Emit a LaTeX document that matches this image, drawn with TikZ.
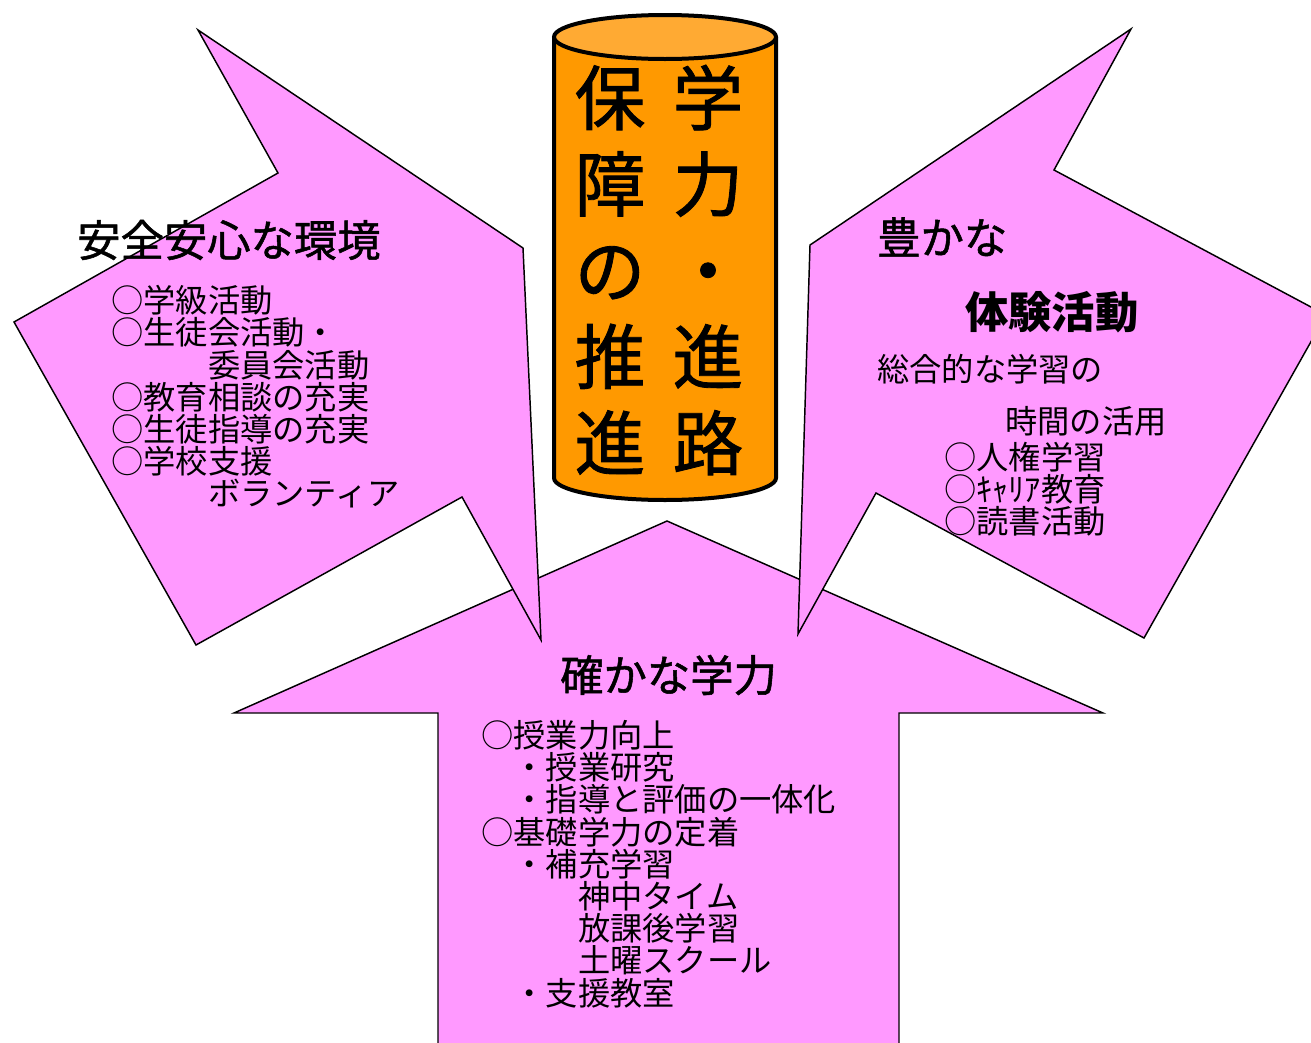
\documentclass[tikz,border=0pt]{standalone}
\usepackage{fontspec}
\newfontfamily\jp{Noto Sans CJK JP}
\newfontfamily\jpmed[FakeBold=1.2]{Noto Sans CJK JP}
\setlength{\lineskiplimit}{-100pt}
\definecolor{pinkfill}{HTML}{FF99FF}
\definecolor{orangebody}{HTML}{FF9900}
\definecolor{orangetop}{HTML}{FFAA33}
\begin{document}
\begin{tikzpicture}[x=0.75pt,y=-0.75pt,
  arrowshape/.style={fill=pinkfill, draw=black, line width=1.1pt, line join=miter},
  titletext/.style={font=\jpmed\fontsize{32.5}{34}\selectfont, inner sep=0pt, anchor=west},
  listtext/.style={font=\jp\fontsize{24.2}{24.15}\selectfont, inner sep=0pt, anchor=west, align=left},
  coltext/.style={font=\jpmed\fontsize{53}{64.7}\selectfont, inner sep=0pt, align=center}]
\useasboundingbox (0,0) rectangle (1311,1043);
\begin{scope}
  \clip (0,0) rectangle (1311,1043);
  % bottom arrow (up)
  \path[arrowshape] (667,521) -- (234,713) -- (438,713) -- (438,1060) -- (899,1060) -- (899,713) -- (1103,713) -- cycle;
  % left arrow
  \path[arrowshape] (523,248) -- (198,30) -- (278,173) -- (14,322) -- (196,645) -- (462,497) -- (541,640) -- cycle;
  % right arrow
  \path[arrowshape] (810,245) -- (1131,29) -- (1054,170) -- (1326,315) -- (1144,638) -- (876,493) -- (798,634) -- cycle;
  % cylinder
  \fill[orangebody] (554,37) -- (554,478) arc[start angle=180, end angle=0, x radius=111, y radius=22] -- (776,37) -- cycle;
  \draw[line width=3pt] (554,37) -- (554,478) arc[start angle=180, end angle=0, x radius=111, y radius=22] -- (776,37);
  \filldraw[fill=orangetop, draw=black, line width=3pt] (665,37) ellipse[x radius=111, y radius=22];
\end{scope}
% cylinder text
\node[coltext] (colL) at (610,270) {保\\障\\の\\推\\進};
\node[coltext] (colR) at (708,270) {学\\力\\・\\進\\路};
% left arrow text
\node[titletext] (titleL) at (77,240) {安全安心な環境};
\node[listtext] (listL) at (111,397) {○学級活動\\○生徒会活動・\\\hspace*{3em}委員会活動\\○教育相談の充実\\○生徒指導の充実\\○学校支援\\\hspace*{3em}ボランティア};
% right arrow text
\node[titletext] (titleR1) at (877,237) {豊かな};
\node[titletext, font=\jp\bfseries\fontsize{32.5}{34}\selectfont] (titleR2) at (965,312) {体験活動};
\node[listtext] (sogo1) at (877,369) {総合的な学習の};
\node[listtext] (sogo2) at (1005,421) {時間の活用};
\node[listtext] (listR) at (944,489) {○人権学習\\○ｷｬﾘｱ教育\\○読書活動};
% bottom arrow text
\node[titletext] (titleB) at (560,675) {確かな学力};
\node[listtext] (listB) at (481,864) {○授業力向上\\\hspace*{1em}・授業研究\\\hspace*{1em}・指導と評価の一体化\\○基礎学力の定着\\\hspace*{1em}・補充学習\\\hspace*{3em}神中タイム\\\hspace*{3em}放課後学習\\\hspace*{3em}土曜スクール\\\hspace*{1em}・支援教室};
\end{tikzpicture}
\end{document}
